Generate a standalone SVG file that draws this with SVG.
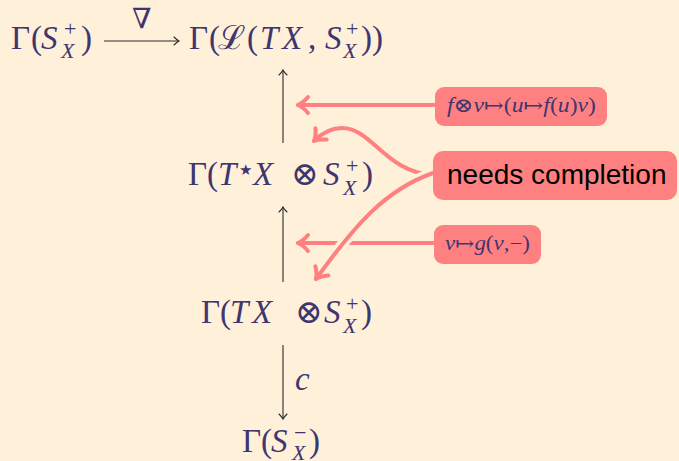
<svg xmlns="http://www.w3.org/2000/svg" width="679" height="461" viewBox="0 0 679 461">
<defs>
<style>
.m{font-family:"Liberation Serif","DejaVu Serif",serif;fill:#3f3670;font-size:33px}
.i{font-style:italic}
.sup{font-size:22px}
.lbl{font-family:"Liberation Serif","DejaVu Serif",serif;fill:#3f3670;font-size:20px}
.ar{stroke:#2a2a2a;stroke-width:1.1;fill:none}
.pk{stroke:#ff8080;stroke-width:4;fill:none;stroke-linecap:round}
.box{fill:#ff8080}
</style>
<marker id="ah" viewBox="-7 -6 9 12" markerWidth="9" markerHeight="12" refX="0" refY="0" orient="auto" markerUnits="userSpaceOnUse">
<path d="M-5,-4 Q-2,-1 0,0 Q-2,1 -5,4" fill="none" stroke="#2a2a2a" stroke-width="1.1" stroke-linecap="round"/>
</marker>
<marker id="pa" viewBox="-14 -12 18 24" markerWidth="18" markerHeight="24" refX="0" refY="0" orient="auto" markerUnits="userSpaceOnUse">
<path d="M-10,-8 Q-5,-2 0,0 Q-5,2 -10,8" fill="none" stroke="#ff8080" stroke-width="4" stroke-linecap="round" stroke-linejoin="round"/>
</marker>
</defs>
<rect width="679" height="461" fill="#fff0da"/>

<g id="connectors">
<line class="ar" x1="104" y1="41" x2="179" y2="41" marker-end="url(#ah)"/>
<text class="m" x="132" y="28" style="font-size:28px">∇</text>
<line class="ar" x1="283" y1="143" x2="283" y2="70" marker-end="url(#ah)"/>
<line class="ar" x1="283" y1="282" x2="283" y2="207" marker-end="url(#ah)"/>
<line class="ar" x1="283" y1="345" x2="283" y2="419" marker-end="url(#ah)"/>
<text class="m i" x="295" y="390">c</text>
<line class="pk" x1="435" y1="105" x2="298" y2="105" marker-end="url(#pa)"/>
<line class="pk" x1="434" y1="243" x2="298" y2="243" marker-end="url(#pa)"/>
<path class="pk" d="M433,175 C385,172 372,128 342,128 C330,128 321,134 314,141" marker-end="url(#pa)"/>
<path d="M433,173 C385,190 355,225 316,279" fill="none" stroke="#fff0da" stroke-width="11"/>
<path class="pk" d="M433,173 C385,190 355,225 316,279" marker-end="url(#pa)"/>
</g>

<g id="n-gamma-splus">
<text class="m" x="11" y="49">Γ<tspan x="31">(</tspan><tspan class="i" x="41">S</tspan><tspan x="81">)</tspan></text>
<text class="m sup" x="64" y="36">+</text>
<text class="m sup i" x="61" y="58">X</text>
</g>

<g id="n-gamma-L">
<text class="m" x="189" y="49">Γ<tspan x="209">(</tspan><tspan x="218">ℒ</tspan><tspan x="247">(</tspan><tspan class="i" x="260">T</tspan><tspan class="i" x="282">X</tspan><tspan x="308">,</tspan><tspan class="i" x="325">S</tspan><tspan x="361">))</tspan></text>
<text class="m sup" x="346" y="36">+</text>
<text class="m sup i" x="343" y="58">X</text>
</g>

<g id="n-gamma-tstar">
<text class="m" x="188" y="185">Γ<tspan x="207">(</tspan><tspan class="i" x="218">T</tspan><tspan class="i" x="253">X</tspan><tspan x="291">⊗</tspan><tspan class="i" x="323">S</tspan><tspan x="362">)</tspan></text>
<text class="m" x="239" y="175" style="font-size:15px">★</text>
<text class="m sup" x="346" y="173">+</text>
<text class="m sup i" x="343" y="195">X</text>
</g>

<g id="n-gamma-tx">
<text class="m" x="201" y="323">Γ<tspan x="220">(</tspan><tspan class="i" x="230">T</tspan><tspan class="i" x="252">X</tspan><tspan x="295">⊗</tspan><tspan class="i" x="324">S</tspan><tspan x="361">)</tspan></text>
<text class="m sup" x="346" y="311">+</text>
<text class="m sup i" x="343" y="333">X</text>
</g>

<g id="n-gamma-sminus">
<text class="m" x="242" y="452">Γ<tspan x="261">(</tspan><tspan class="i" x="271">S</tspan><tspan x="309">)</tspan></text>
<text class="m sup" x="294" y="440">−</text>
<text class="m sup i" x="292" y="460">X</text>
</g>

<g id="b-fv">
<rect class="box" x="435" y="87" width="172" height="39" rx="9"/>
<text class="lbl" x="447" y="112" textLength="149" lengthAdjust="spacingAndGlyphs"><tspan class="i">f</tspan>⊗<tspan class="i">v</tspan>↦(<tspan class="i">u</tspan>↦<tspan class="i">f</tspan>(<tspan class="i">u</tspan>)<tspan class="i">v</tspan>)</text>
</g>

<g id="b-vg">
<rect class="box" x="434" y="225" width="107" height="39" rx="9"/>
<text class="lbl" x="445" y="250" textLength="85" lengthAdjust="spacingAndGlyphs"><tspan class="i">v</tspan>↦<tspan class="i">g</tspan>(<tspan class="i">v</tspan>,−)</text>
</g>

<g id="b-needs">
<rect x="433" y="151" width="244" height="49" rx="10" class="box"/>
<text x="447" y="184" font-family="Liberation Sans, Arial, sans-serif" font-size="28" fill="#000">needs completion</text>
</g>
</svg>
